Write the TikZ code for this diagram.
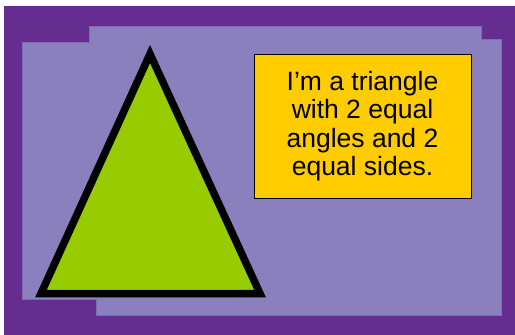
\documentclass[tikz,border=0pt]{standalone}
\usepackage{fontspec}
\setmainfont{Liberation Sans}
\usepackage{xcolor}
\usetikzlibrary{positioning}
\definecolor{frameviolet}{HTML}{652D90}
\definecolor{panelviolet}{HTML}{8B80BE}
\definecolor{trigreen}{HTML}{99CC00}
\definecolor{noteyellow}{HTML}{FFCC00}

\begin{document}
\begin{tikzpicture}[
  x=1pt,y=-1pt,
  frame/.style={fill=frameviolet},
  panel/.style={fill=panelviolet,draw=panelviolet!75!frameviolet,line width=0.8pt},
  tri/.style={draw=black,fill=trigreen,line width=7.5pt,line join=miter},
  note/.style={draw,fill=noteyellow,line width=1pt,align=center,minimum width=217pt,minimum height=144pt,inner sep=0pt,font=\fontsize{26.5}{28.5}\selectfont}
]
\useasboundingbox (0,0) rectangle (515,335);
\fill[frame] (4,6) rectangle (515,335);
% stepped inner panel
\draw[panel] (22,42) -- (89,42) -- (89,26) -- (481,26) -- (481,39) -- (501,39)
  -- (501,315) -- (96,315) -- (96,299) -- (22,299) -- cycle;
\draw[tri] (150,54) -- (260,293.5) -- (41,293.5) -- cycle;
\node[note] (label) at (362.5,126) {I’m a triangle\\with 2 equal\\angles and 2\\equal sides.};
\end{tikzpicture}
\end{document}
